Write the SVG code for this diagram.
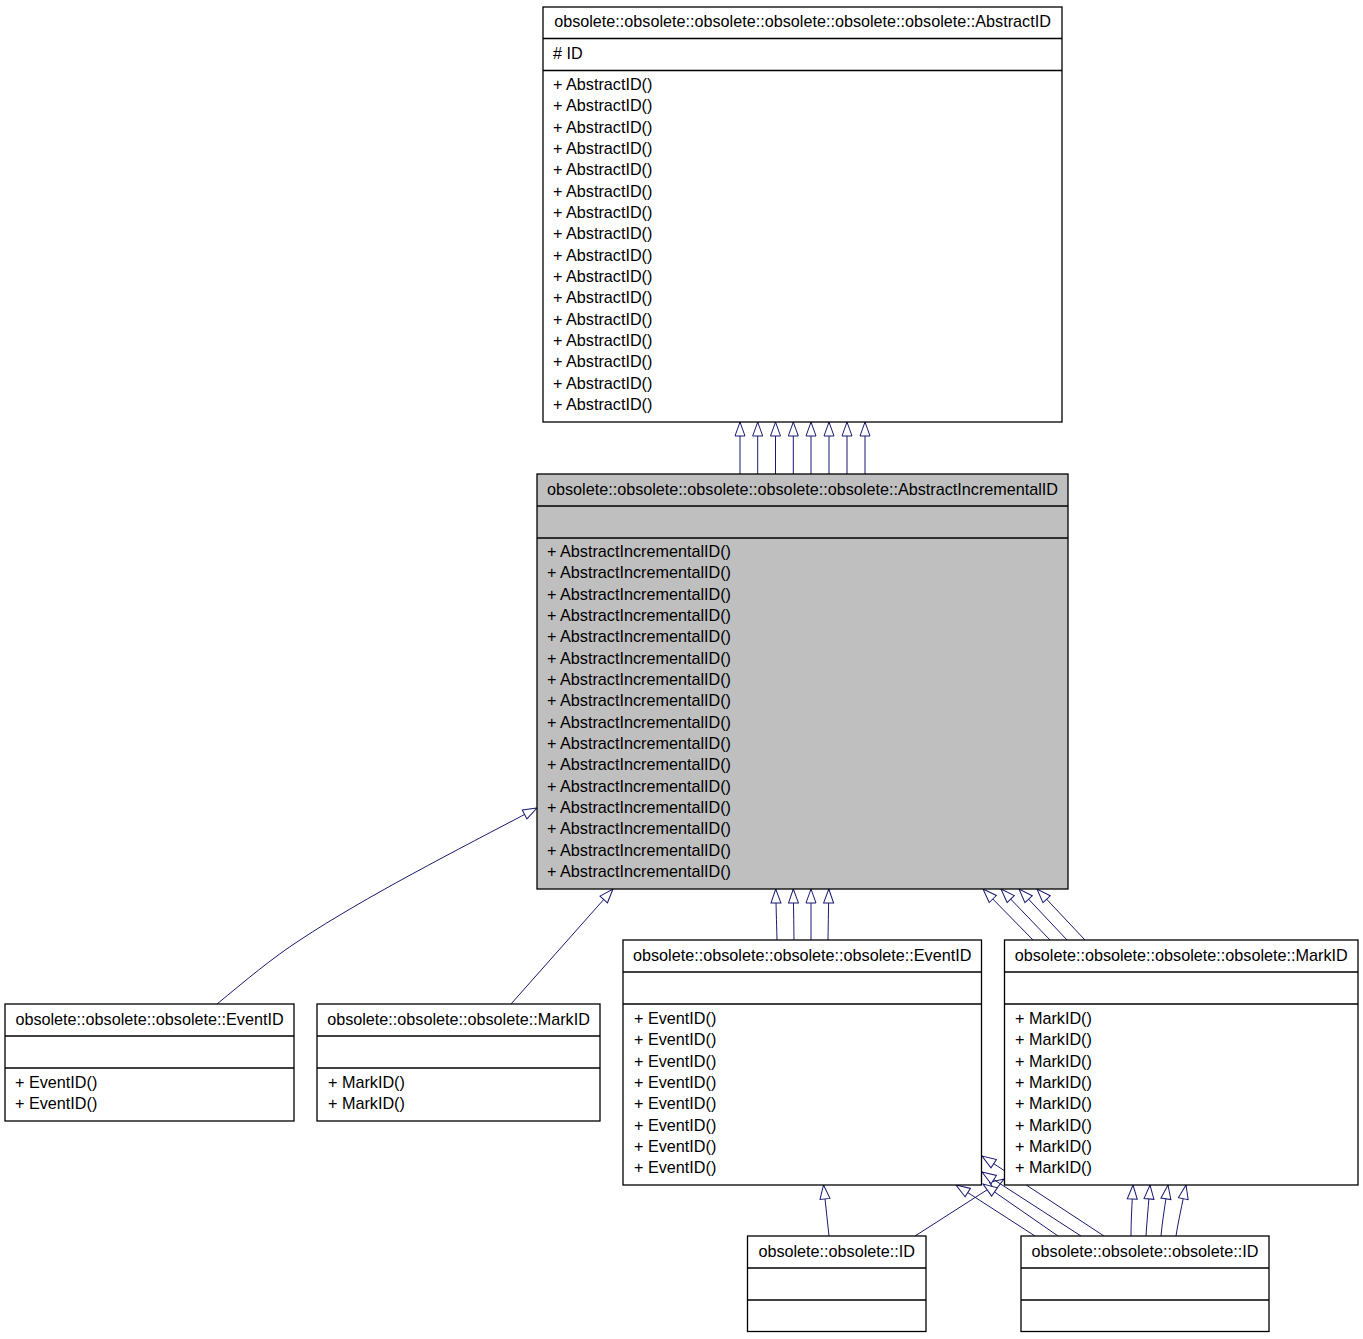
<svg xmlns="http://www.w3.org/2000/svg" width="1363" height="1339" viewBox="0 0 1363 1339">
<style>
  .box { fill: #ffffff; stroke: #000000; stroke-width: 1.3; }
  .hl { fill: #bfbfbf; }
  .sep { stroke: #000000; stroke-width: 1.3; }
  text { font-family: "Liberation Sans", Helvetica, Arial, sans-serif; font-size: 16.2px; fill: #000000; }
  .t { text-anchor: middle; }
  .e { fill: none; stroke: #191970; stroke-width: 1; marker-end: url(#ah); }
</style>
<defs>
  <marker id="ah" markerUnits="userSpaceOnUse" markerWidth="16" markerHeight="12" refX="14" refY="5.5" orient="auto" viewBox="-1 -0.5 16 12">
    <path d="M0,0.5 L14,5.5 L0,10.5 Z" fill="#ffffff" stroke="#191970" stroke-width="1"/>
  </marker>
</defs>
<rect width="1363" height="1339" fill="#ffffff"/>

<g id="edges">
  <!-- AbstractIncrementalID -> AbstractID -->
  <path class="e" d="M740,474 L740,422"/>
  <path class="e" d="M757.7,474 L757.7,422"/>
  <path class="e" d="M775.5,474 L775.5,422"/>
  <path class="e" d="M793.3,474 L793.3,422"/>
  <path class="e" d="M811,474 L811,422"/>
  <path class="e" d="M829,474 L829,422"/>
  <path class="e" d="M847,474 L847,422"/>
  <path class="e" d="M865,474 L865,422"/>
  <!-- EventID(left) -> AbstractIncrementalID -->
  <path class="e" d="M217,1004 C245,981 272,958 300,940 C365,897 455,851 537,808"/>
  <!-- MarkID(left) -> AbstractIncrementalID -->
  <path class="e" d="M511,1004 L613,889"/>
  <!-- EventID(mid) -> AbstractIncrementalID -->
  <path class="e" d="M777,940 C776.5,920 776,905 775.7,889"/>
  <path class="e" d="M794,940 C793.8,920 793.5,905 793.3,889"/>
  <path class="e" d="M811,940 L811,889"/>
  <path class="e" d="M828,940 C828.3,920 828.6,905 828.8,889"/>
  <!-- MarkID(right) -> AbstractIncrementalID -->
  <path class="e" d="M1033,940 L983,889"/>
  <path class="e" d="M1050,940 L1001,889"/>
  <path class="e" d="M1067,940 L1019,889"/>
  <path class="e" d="M1085,940 L1037,889"/>
  <!-- ID small -> EventID(mid), MarkID(right) -->
  <path class="e" d="M829,1236 L823.5,1185"/>
  <path class="e" d="M915,1236 L1004,1179"/>
  <!-- ID big -> EventID(mid) -->
  <path class="e" d="M1035,1236 L956,1185"/>
  <path class="e" d="M1058,1236 L983,1184"/>
  <path class="e" d="M1081,1236 L982,1172"/>
  <path class="e" d="M1104,1236 L982,1156"/>
  <!-- ID big -> MarkID(right) -->
  <path class="e" d="M1131,1236 C1131,1220 1132,1205 1133,1185"/>
  <path class="e" d="M1146,1236 C1147,1220 1148.5,1205 1150,1185"/>
  <path class="e" d="M1161,1236 C1162.5,1220 1165,1205 1168,1185"/>
  <path class="e" d="M1176,1236 C1178.5,1220 1182,1205 1186,1185"/>
</g>

<g id="node-abstractid">
  <rect class="box" x="543" y="7" width="519" height="415"/>
  <line class="sep" x1="543" y1="38.5" x2="1062" y2="38.5"/>
  <line class="sep" x1="543" y1="70.5" x2="1062" y2="70.5"/>
  <text class="t" x="802.5" y="27">obsolete::obsolete::obsolete::obsolete::obsolete::obsolete::AbstractID</text>
  <text x="553" y="58.5"># ID</text>
  <text x="553" y="90">+ AbstractID()</text>
  <text x="553" y="111.3">+ AbstractID()</text>
  <text x="553" y="132.7">+ AbstractID()</text>
  <text x="553" y="154">+ AbstractID()</text>
  <text x="553" y="175.3">+ AbstractID()</text>
  <text x="553" y="196.7">+ AbstractID()</text>
  <text x="553" y="218">+ AbstractID()</text>
  <text x="553" y="239.3">+ AbstractID()</text>
  <text x="553" y="260.7">+ AbstractID()</text>
  <text x="553" y="282">+ AbstractID()</text>
  <text x="553" y="303.3">+ AbstractID()</text>
  <text x="553" y="324.7">+ AbstractID()</text>
  <text x="553" y="346">+ AbstractID()</text>
  <text x="553" y="367.3">+ AbstractID()</text>
  <text x="553" y="388.7">+ AbstractID()</text>
  <text x="553" y="410">+ AbstractID()</text>
</g>

<g id="node-abstractincrementalid">
  <rect class="box hl" x="537" y="474" width="531" height="415"/>
  <line class="sep" x1="537" y1="506" x2="1068" y2="506"/>
  <line class="sep" x1="537" y1="538" x2="1068" y2="538"/>
  <text class="t" x="802.5" y="494.5">obsolete::obsolete::obsolete::obsolete::obsolete::AbstractIncrementalID</text>
  <text x="547" y="557">+ AbstractIncrementalID()</text>
  <text x="547" y="578.3">+ AbstractIncrementalID()</text>
  <text x="547" y="599.7">+ AbstractIncrementalID()</text>
  <text x="547" y="621">+ AbstractIncrementalID()</text>
  <text x="547" y="642.3">+ AbstractIncrementalID()</text>
  <text x="547" y="663.7">+ AbstractIncrementalID()</text>
  <text x="547" y="685">+ AbstractIncrementalID()</text>
  <text x="547" y="706.3">+ AbstractIncrementalID()</text>
  <text x="547" y="727.7">+ AbstractIncrementalID()</text>
  <text x="547" y="749">+ AbstractIncrementalID()</text>
  <text x="547" y="770.3">+ AbstractIncrementalID()</text>
  <text x="547" y="791.7">+ AbstractIncrementalID()</text>
  <text x="547" y="813">+ AbstractIncrementalID()</text>
  <text x="547" y="834.3">+ AbstractIncrementalID()</text>
  <text x="547" y="855.7">+ AbstractIncrementalID()</text>
  <text x="547" y="877">+ AbstractIncrementalID()</text>
</g>

<g id="node-eventid-3">
  <rect class="box" x="5" y="1004" width="289" height="117"/>
  <line class="sep" x1="5" y1="1036" x2="294" y2="1036"/>
  <line class="sep" x1="5" y1="1068" x2="294" y2="1068"/>
  <text class="t" x="149.5" y="1024.5">obsolete::obsolete::obsolete::EventID</text>
  <text x="15" y="1088">+ EventID()</text>
  <text x="15" y="1109.3">+ EventID()</text>
</g>

<g id="node-markid-3">
  <rect class="box" x="317" y="1004" width="283" height="117"/>
  <line class="sep" x1="317" y1="1036" x2="600" y2="1036"/>
  <line class="sep" x1="317" y1="1068" x2="600" y2="1068"/>
  <text class="t" x="458.5" y="1024.5">obsolete::obsolete::obsolete::MarkID</text>
  <text x="328" y="1088">+ MarkID()</text>
  <text x="328" y="1109.3">+ MarkID()</text>
</g>

<g id="node-eventid-4">
  <rect class="box" x="623" y="940" width="358.5" height="245"/>
  <line class="sep" x1="623" y1="972" x2="981.5" y2="972"/>
  <line class="sep" x1="623" y1="1004" x2="981.5" y2="1004"/>
  <text class="t" x="802.2" y="960.5">obsolete::obsolete::obsolete::obsolete::EventID</text>
  <text x="634" y="1024">+ EventID()</text>
  <text x="634" y="1045.3">+ EventID()</text>
  <text x="634" y="1066.7">+ EventID()</text>
  <text x="634" y="1088">+ EventID()</text>
  <text x="634" y="1109.3">+ EventID()</text>
  <text x="634" y="1130.7">+ EventID()</text>
  <text x="634" y="1152">+ EventID()</text>
  <text x="634" y="1173.3">+ EventID()</text>
</g>

<g id="node-markid-4">
  <rect class="box" x="1004.5" y="940" width="353.5" height="245"/>
  <line class="sep" x1="1004.5" y1="972" x2="1358" y2="972"/>
  <line class="sep" x1="1004.5" y1="1004" x2="1358" y2="1004"/>
  <text class="t" x="1181.2" y="960.5">obsolete::obsolete::obsolete::obsolete::MarkID</text>
  <text x="1015" y="1024">+ MarkID()</text>
  <text x="1015" y="1045.3">+ MarkID()</text>
  <text x="1015" y="1066.7">+ MarkID()</text>
  <text x="1015" y="1088">+ MarkID()</text>
  <text x="1015" y="1109.3">+ MarkID()</text>
  <text x="1015" y="1130.7">+ MarkID()</text>
  <text x="1015" y="1152">+ MarkID()</text>
  <text x="1015" y="1173.3">+ MarkID()</text>
</g>

<g id="node-id-2">
  <rect class="box" x="747.5" y="1236" width="178.5" height="95.5"/>
  <line class="sep" x1="747.5" y1="1268" x2="926" y2="1268"/>
  <line class="sep" x1="747.5" y1="1300" x2="926" y2="1300"/>
  <text class="t" x="836.7" y="1256.5">obsolete::obsolete::ID</text>
</g>

<g id="node-id-3">
  <rect class="box" x="1021" y="1236" width="248" height="95.5"/>
  <line class="sep" x1="1021" y1="1268" x2="1269" y2="1268"/>
  <line class="sep" x1="1021" y1="1300" x2="1269" y2="1300"/>
  <text class="t" x="1145" y="1256.5">obsolete::obsolete::obsolete::ID</text>
</g>
</svg>
